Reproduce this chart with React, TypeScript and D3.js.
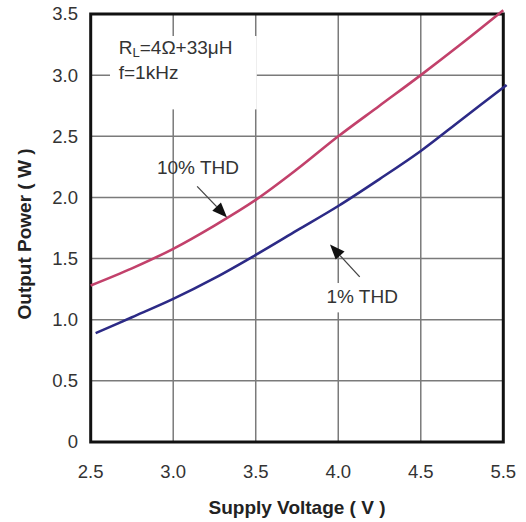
import React from 'react'
import * as d3 from 'd3'

// supply voltage (V) vs output power (W)
const voltage10 = [2.5, 2.75, 3.0, 3.25, 3.5, 3.75, 4.0, 4.25, 4.5, 4.75, 5.0]
const power10 = [1.28, 1.42, 1.58, 1.77, 1.98, 2.23, 2.5, 2.75, 3.0, 3.26, 3.53]
const voltage1 = [2.53, 2.75, 3.0, 3.25, 3.5, 3.75, 4.0, 4.25, 4.5, 4.75, 5.02]
const power1 = [0.89, 1.02, 1.17, 1.34, 1.53, 1.73, 1.93, 2.15, 2.38, 2.64, 2.92]

const xTicks = [2.5, 3.0, 3.5, 4.0, 4.5, 5.0]
const xTickLabels = ['2.5', '3.0', '3.5', '4.0', '4.5', '5.5']
const yTicks = [0, 0.5, 1.0, 1.5, 2.0, 2.5, 3.0, 3.5]
const yTickLabels = ['0', '0.5', '1.0', '1.5', '2.0', '2.5', '3.0', '3.5']

const width = 526
const height = 522
const font = '"Liberation Sans", Arial, sans-serif'

const App = () => {
  const x = d3.scaleLinear().domain([2.5, 5.0]).range([90.7, 503.3])
  const y = d3.scaleLinear().domain([0, 3.5]).range([442, 14])

  const line = d3.line<[number, number]>()
    .x((d) => x(d[0]))
    .y((d) => y(d[1]))
    .curve(d3.curveCatmullRom.alpha(0.5))

  const red = line(voltage10.map((v, i) => [v, power10[i]])) || ''
  const blue = line(voltage1.map((v, i) => [v, power1[i]])) || ''

  // arrow in data coords: tail -> tip
  const arrow = (v0: number, p0: number, v1: number, p1: number) => {
    const x0 = x(v0), y0 = y(p0), x1 = x(v1), y1 = y(p1)
    const a = Math.atan2(y1 - y0, x1 - x0)
    const len = 15, hw = 6
    const bx = x1 - len * Math.cos(a), by = y1 - len * Math.sin(a)
    const pts = [
      [x1, y1],
      [bx + hw * Math.sin(a), by - hw * Math.cos(a)],
      [bx - hw * Math.sin(a), by + hw * Math.cos(a)],
    ]
    return (
      <g>
        <line x1={x0} y1={y0} x2={bx} y2={by} stroke="#444" strokeWidth={1.3} />
        <polygon points={pts.map((p) => p.join(',')).join(' ')} fill="#111" />
      </g>
    )
  }

  return (
    <svg width={width} height={height} style={{ position: 'absolute', left: 0, top: 0, background: '#fff' }}>
      {/* grid */}
      <g stroke="#7a7a7a" strokeWidth={1.5}>
        {xTicks.slice(1, -1).map((t) => (
          <line key={`vx${t}`} x1={x(t)} x2={x(t)} y1={y(0)} y2={y(3.5)} />
        ))}
        {yTicks.slice(1, -1).map((t) => (
          <line key={`hy${t}`} x1={x(2.5)} x2={x(5.0)} y1={y(t)} y2={y(t)} />
        ))}
      </g>

      {/* label backgrounds */}
      <rect x={x(2.617)} y={y(3.32)} width={x(3.5) - x(2.617) + 1} height={y(2.72) - y(3.32)} fill="#fff" />
      <rect x={x(3.89)} y={y(1.30)} width={x(4.38) - x(3.89)} height={y(1.06) - y(1.30)} fill="#fff" />

      {/* frame */}
      <rect x={x(2.5)} y={y(3.5)} width={x(5.0) - x(2.5)} height={y(0) - y(3.5)} fill="none" stroke="#111" strokeWidth={3} />

      {/* curves */}
      <path d={red} fill="none" stroke="#c2416b" strokeWidth={2.6} />
      <path d={blue} fill="none" stroke="#2c2a86" strokeWidth={2.6} />

      {/* annotations */}
      <g fontFamily={font} fontSize={19} fill="#333">
        <text x={x(2.67)} y={y(3.17)}>
          R<tspan fontSize={13} dy={3}>L</tspan><tspan dy={-3}>=4Ω+33μH</tspan>
        </text>
        <text x={x(2.67)} y={y(2.97)}>f=1kHz</text>
        <text x={x(3.15)} y={y(2.19)} textAnchor="middle">10% THD</text>
        <text x={x(4.145)} y={y(1.14)} textAnchor="middle">1% THD</text>
      </g>
      {arrow(3.145, 2.09, 3.326, 1.836)}
      {arrow(4.13, 1.35, 3.95, 1.615)}

      {/* tick labels */}
      <g fontFamily={font} fontSize={18.5} fill="#333">
        {xTicks.map((t, i) => (
          <text key={`xt${t}`} x={x(t)} y={478} textAnchor="middle">{xTickLabels[i]}</text>
        ))}
        {yTicks.map((t, i) => (
          <text key={`yt${t}`} x={78} y={y(t)} dy="0.35em" textAnchor="end">{yTickLabels[i]}</text>
        ))}
      </g>

      {/* axis titles */}
      <g fontFamily={font} fontSize={19} fontWeight="bold" fill="#222">
        <text x={(x(2.5) + x(5.0)) / 2} y={514} textAnchor="middle">Supply Voltage ( V )</text>
        <text transform={`translate(31,${(y(0) + y(3.5)) / 2 + 6}) rotate(-90)`} textAnchor="middle">Output Power ( W )</text>
      </g>
    </svg>
  )
}

export default App
